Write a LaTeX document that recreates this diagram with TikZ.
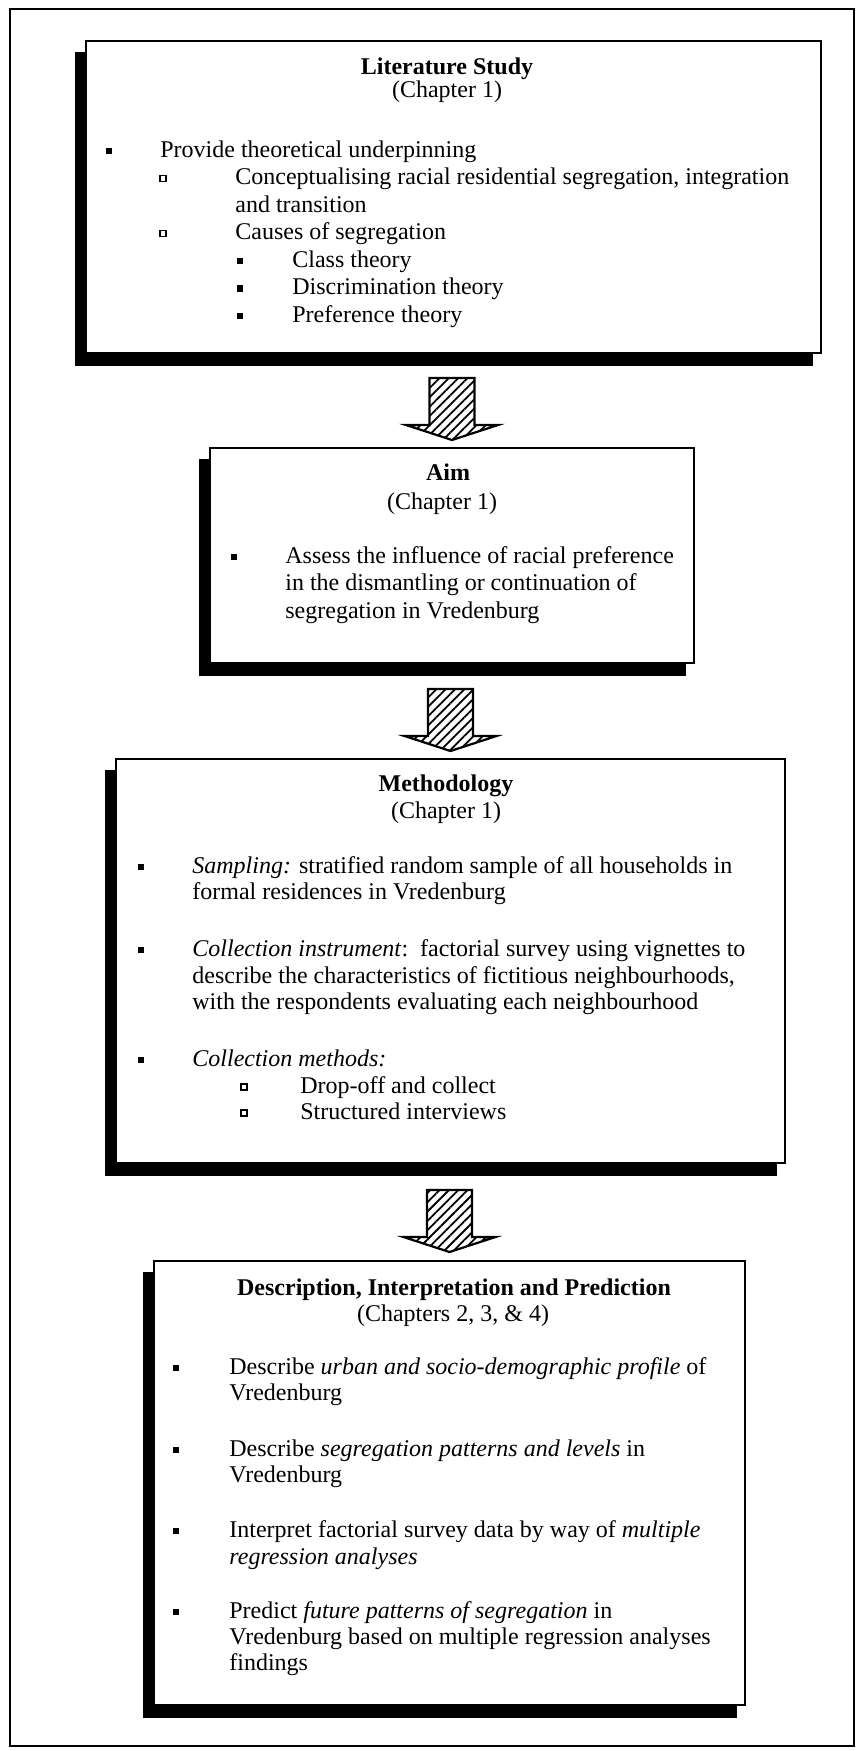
\documentclass[tikz,border=0pt]{standalone}
\usepackage{fontspec}
\setmainfont{Liberation Serif}
\usetikzlibrary{patterns.meta,backgrounds,calc}
\begin{document}
\begin{tikzpicture}[x=0.5pt,y=-0.5pt,
  txt/.style={anchor=base west,inner sep=0pt,font=\fontsize{12}{14}\selectfont},
  ttl/.style={anchor=base,inner sep=0pt,font=\fontsize{12}{14}\selectfont\bfseries},
  chap/.style={anchor=base,inner sep=0pt,font=\fontsize{12}{14}\selectfont},
  boxr/.style={draw=black,line width=1pt,fill=white,inner sep=0pt,anchor=north west},
  shad/.style={fill=black},
  fb/.style={fill=black,minimum size=3.2pt,inner sep=0pt,outer sep=0pt},
  hb/.style={draw=black,line width=0.6pt,fill=white,minimum size=3pt,inner sep=0pt,outer sep=0pt},
  harrow/.style={draw=black,line width=1.1pt,line join=miter,
    pattern={Lines[angle=45,distance=3.3pt,line width=0.9pt]}},
  blockarrow/.pic={\draw[harrow] (-22.5,0) -- (22.5,0) -- (22.5,47) -- (46,47)
     -- (0,62) -- (-46,47) -- (-22.5,47) -- cycle;}
]
\useasboundingbox (0,0) rectangle (858,1751);
% outer frame
\draw[line width=1.1pt] (10,9) rectangle (854,1746);

% boxes
\node[boxr,minimum width=367.5pt,minimum height=156pt] (b1) at (85,40) {};
\node[boxr,minimum width=242pt,minimum height=107.5pt] (b2) at (209,447) {};
\node[boxr,minimum width=334.5pt,minimum height=202pt] (b3) at (115,758) {};
\node[boxr,minimum width=295.5pt,minimum height=222pt] (b4) at (153,1260) {};

\begin{scope}[on background layer]
  \fill[white] (0,0) rectangle (858,1751);
  \foreach \b in {b1,b2,b3,b4}{
    \fill[shad] ([shift={(-10,12)}]\b.north west) rectangle ([shift={(-9,12)}]\b.south east);
  }
\end{scope}

% block arrows between boxes
\pic at ($(b1.south -| b2.north)+(0,24)$) {blockarrow};
\pic at ($(b2.south -| b3.north)+(0,25)$) {blockarrow};
\pic at ($(b3.south -| b4.north)+(0,26)$) {blockarrow};

% ---- Box 1
\node[ttl] (t1) at (447,74) {Literature Study};
\node[chap] (c1) at (447,97) {(Chapter 1)};
\node[fb] (p1) at (109,151) {};
\node[txt] (l1a) at (160,157) {Provide theoretical underpinning};
\node[hb] (q1) at (163,178.5) {};
\node[txt] (l1b) at (235,184.5) {Conceptualising racial residential segregation, integration};
\node[txt] (l1c) at (235,212) {and transition};
\node[hb] (q2) at (163,233.5) {};
\node[txt] (l1d) at (235,239.5) {Causes of segregation};
\node[fb] (p2) at (240,261) {};
\node[txt] (l1e) at (292,267) {Class theory};
\node[fb] (p3) at (240,288.5) {};
\node[txt] (l1f) at (292,294.5) {Discrimination theory};
\node[fb] (p4) at (240,316) {};
\node[txt] (l1g) at (292,322) {Preference theory};

% ---- Box 2
\node[ttl] (t2) at (448,480) {Aim};
\node[chap] (c2) at (442,509) {(Chapter 1)};
\node[fb] (p5) at (234,557) {};
\node[txt] (l2a) at (285,563) {Assess the influence of racial preference};
\node[txt] (l2b) at (285,590) {in the dismantling or continuation of};
\node[txt] (l2c) at (285,618) {segregation in Vredenburg};

% ---- Box 3
\node[ttl] (t3) at (446,791) {Methodology};
\node[chap] (c3) at (446,818) {(Chapter 1)};
\node[fb] (p6) at (141,867) {};
\node[txt] (l3a) at (192,873) {\textit{Sampling:} stratified random sample of all households in};
\node[txt] (l3b) at (192,899) {formal residences in Vredenburg};
\node[fb] (p7) at (141,950) {};
\node[txt] (l3c) at (192,956) {\textit{Collection instrument}:\ \ factorial survey using vignettes to};
\node[txt] (l3d) at (192,983) {describe the characteristics of fictitious neighbourhoods,};
\node[txt] (l3e) at (192,1009) {with the respondents evaluating each neighbourhood};
\node[fb] (p8) at (141,1060) {};
\node[txt] (l3f) at (192,1066) {\textit{Collection methods:}};
\node[hb] (q3) at (244,1087) {};
\node[txt] (l3g) at (300,1093) {Drop-off and collect};
\node[hb] (q4) at (244,1113) {};
\node[txt] (l3h) at (300,1119) {Structured interviews};

% ---- Box 4
\node[ttl] (t4) at (454,1295) {Description, Interpretation and Prediction};
\node[chap] (c4) at (453,1321) {(Chapters 2, 3, \& 4)};
\node[fb] (p9) at (176,1368) {};
\node[txt] (l4a) at (229,1374) {Describe \textit{urban and socio-demographic profile} of};
\node[txt] (l4b) at (229,1400) {Vredenburg};
\node[fb] (p10) at (176,1450) {};
\node[txt] (l4c) at (229,1456) {Describe \textit{segregation patterns and levels} in};
\node[txt] (l4d) at (229,1482) {Vredenburg};
\node[fb] (p11) at (176,1531) {};
\node[txt] (l4e) at (229,1537) {Interpret factorial survey data by way of \textit{multiple}};
\node[txt] (l4f) at (229,1564) {\textit{regression analyses}};
\node[fb] (p12) at (176,1612) {};
\node[txt] (l4g) at (229,1618) {Predict \textit{future patterns of segregation} in};
\node[txt] (l4h) at (229,1644) {Vredenburg based on multiple regression analyses};
\node[txt] (l4i) at (229,1670) {findings};
\end{tikzpicture}
\end{document}
